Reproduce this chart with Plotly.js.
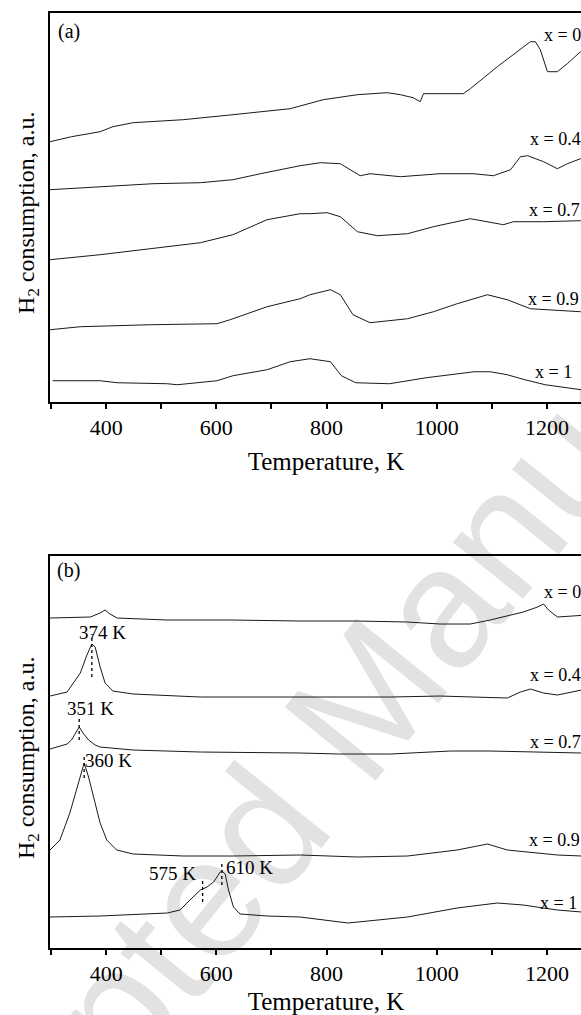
<!DOCTYPE html>
<html>
<head>
<meta charset="utf-8">
<script src="https://cdn.plot.ly/plotly-3.0.1.min.js"></script>
<style>html,body{margin:0;padding:0;overflow:hidden;background:#fff}</style>
</head>
<body>
<div id="chart"></div>
<script>
// ---------- data (temperature in K, H2 consumption in a.u.) ----------
// panel (a)
const a0_T  = [298, 337, 389, 412, 449, 540, 630, 734, 794, 856, 910, 934, 957, 970, 976, 1048, 1061, 1110, 1170, 1179, 1188, 1201, 1219, 1237, 1261, 1300];
const a0_H  = [260, 265, 270, 275, 279, 282, 287, 293, 302, 307, 309, 307, 304, 300, 308, 308, 313, 335, 360, 360, 352, 330, 330, 338, 350, 360];
const a04_T = [298, 389, 485, 571, 630, 680, 752, 789, 825, 861, 879, 934, 1006, 1066, 1103, 1134, 1152, 1165, 1194, 1219, 1237, 1261, 1300];
const a04_H = [212, 215, 218, 219, 222, 228, 236, 239, 238, 226, 228, 225, 228, 228, 226, 232, 245, 246, 240, 233, 238, 243, 248];
const a07_T = [298, 389, 480, 571, 630, 692, 752, 770, 801, 825, 856, 892, 947, 994, 1061, 1110, 1121, 1139, 1194, 1261, 1300];
const a07_H = [142, 147, 153, 159, 167, 182, 188, 188, 189, 185, 170, 166, 168, 175, 183, 178, 177, 180, 180, 181, 181];
const a09_T = [298, 353, 480, 601, 625, 692, 752, 770, 807, 825, 848, 879, 947, 994, 1037, 1092, 1128, 1170, 1261, 1300];
const a09_H = [72, 75, 77, 78, 82, 95, 103, 107, 112, 107, 87, 79, 83, 90, 98, 107, 102, 93, 90, 89];
const a1_T  = [303, 389, 420, 511, 529, 601, 630, 692, 734, 770, 807, 827, 853, 914, 981, 1068, 1097, 1128, 1160, 1197, 1262, 1300];
const a1_H  = [21, 21, 19, 18, 17, 21, 26, 32, 40, 43, 40, 26, 19, 18, 24, 30, 30, 27, 22, 17, 12, 10];
// panel (b)
const b0_T  = [298, 371, 389, 398, 407, 420, 511, 630, 752, 856, 947, 1006, 1061, 1097, 1157, 1183, 1194, 1203, 1219, 1263, 1300];
const b0_H  = [330, 331, 335, 338, 334, 330, 328, 328, 327, 327, 326, 324, 324, 328, 336, 341, 344, 338, 331, 333, 334];
const b04_T = [298, 329, 353, 365, 374, 380, 389, 398, 412, 449, 571, 752, 916, 1006, 1128, 1152, 1170, 1194, 1219, 1263, 1300];
const b04_H = [252, 256, 275, 293, 304, 301, 281, 265, 257, 254, 251, 251, 251, 252, 250, 256, 259, 255, 253, 258, 259];
const b07_T = [298, 329, 337, 345, 351, 358, 368, 380, 389, 449, 571, 752, 825, 916, 1025, 1097, 1219, 1263, 1300];
const b07_H = [199, 204, 208, 215, 221, 215, 208, 203, 201, 198, 196, 195, 194, 194, 197, 197, 195, 195, 195];
const b09_T = [298, 316, 334, 349, 357, 360, 368, 377, 389, 401, 419, 449, 540, 630, 752, 856, 947, 1037, 1092, 1128, 1219, 1263, 1300];
const b09_H = [98, 108, 135, 165, 181, 185, 171, 151, 125, 108, 98, 94, 92, 92, 93, 91, 92, 98, 104, 98, 93, 92, 92];
const b1_T  = [298, 389, 511, 534, 552, 571, 583, 595, 607, 610, 616, 622, 631, 643, 692, 752, 839, 947, 1037, 1110, 1157, 1219, 1263, 1300];
const b1_H  = [31, 32, 35, 38, 48, 58, 61, 66, 76, 77, 74, 58, 41, 34, 32, 31, 25, 31, 40, 45, 43, 38, 36, 36];

const seriesLabels = ['x = 0', 'x = 0.4', 'x = 0.7', 'x = 0.9', 'x = 1'];
const peakTemps = [374, 351, 360, 575, 610];
const peakText  = ['374 K', '351 K', '360 K', '575 K', '610 K'];
const tickVals  = [400, 600, 800, 1000, 1200];
const tickText  = ['400', '600', '800', '1000', '1200'];
const minorTickVals = [300, 500, 700, 900, 1100, 1300];

// ---------- drawing ----------
const SERIF = 'Liberation Serif, Times New Roman, serif';
const lineStyle = {color: '#1a1a1a', width: 1};
function tr(x, y, ax) {
  return {x: x, y: y, type: 'scatter', mode: 'lines', line: lineStyle,
          xaxis: ax === 2 ? 'x2' : 'x', yaxis: ax === 2 ? 'y2' : 'y',
          showlegend: false, hoverinfo: 'skip'};
}
const data = [
  tr(a0_T, a0_H, 1), tr(a04_T, a04_H, 1), tr(a07_T, a07_H, 1), tr(a09_T, a09_H, 1), tr(a1_T, a1_H, 1),
  tr(b0_T, b0_H, 2), tr(b04_T, b04_H, 2), tr(b07_T, b07_H, 2), tr(b09_T, b09_H, 2), tr(b1_T, b1_H, 2)
];

function xAxis(anchor) {
  return {anchor: anchor, domain: [0, 1], range: [298, 1300],
    showline: true, linewidth: 2, linecolor: '#000', mirror: true,
    ticks: 'outside', ticklen: 5, tickwidth: 2, tickcolor: '#000',
    tickmode: 'array', tickvals: tickVals, ticktext: tickText,
    minor: {tickmode: 'array', tickvals: minorTickVals, ticks: 'outside', ticklen: 5, tickwidth: 2, tickcolor: '#000', showgrid: false},
    tickfont: {family: SERIF, size: 22, color: '#000'},
    showgrid: false, zeroline: false,
    title: {text: 'Temperature, K', font: {family: SERIF, size: 25, color: '#000'}, standoff: 13}};
}
function yAxis(anchor, dom, top) {
  return {anchor: anchor, domain: dom, range: [0, top],
    showline: true, linewidth: 2, linecolor: '#000', mirror: true,
    ticks: '', showticklabels: false, showgrid: false, zeroline: false};
}

const annotations = [];
// series labels, right aligned near the right edge
const labA = [[1266, 367], [1266, 263], [1264, 192], [1261, 103], [1249, 30]];
const labB = [[1266, 356], [1266, 273], [1266, 206], [1264, 108], [1258, 45]];
seriesLabels.forEach((t, i) => {
  annotations.push({text: t, xref: 'x', yref: 'y', x: labA[i][0], y: labA[i][1], xanchor: 'right', yanchor: 'middle',
    showarrow: false, font: {family: SERIF, size: 18, color: '#000'}});
  annotations.push({text: t, xref: 'x2', yref: 'y2', x: labB[i][0], y: labB[i][1], xanchor: 'right', yanchor: 'middle',
    showarrow: false, font: {family: SERIF, size: 18, color: '#000'}});
});
// panel letters
annotations.push({text: '(a)', xref: 'x', yref: 'y', x: 332, y: 370, showarrow: false, font: {family: SERIF, size: 20, color: '#000'}});
annotations.push({text: '(b)', xref: 'x2', yref: 'y2', x: 332, y: 378, showarrow: false, font: {family: SERIF, size: 20, color: '#000'}});
// peak labels
const peakLabPos = [[393, 316], [372, 240], [405, 188], [521, 75], [660, 81]];
peakText.forEach((t, i) => {
  annotations.push({text: t, xref: 'x2', yref: 'y2', x: peakLabPos[i][0], y: peakLabPos[i][1], showarrow: false,
    font: {family: SERIF, size: 19, color: '#000'}});
});
// y titles
[[0.7902], [0.2532]].forEach(p => {
  annotations.push({text: 'H<sub>2</sub> consumption, a.u.', xref: 'paper', yref: 'paper', x: -0.0399, y: p[0],
    xanchor: 'center', yanchor: 'middle', textangle: -90, showarrow: false,
    font: {family: SERIF, size: 24, color: '#000'}});
});

// dotted peak marker lines
const peakLineY = [[271, 314], [208, 231], [170, 193], [46, 70], [63, 86]];
const shapes = peakTemps.map((t, i) => ({type: 'line', xref: 'x2', yref: 'y2', x0: t, x1: t,
  y0: peakLineY[i][0], y1: peakLineY[i][1], line: {color: '#000', width: 1.3, dash: 'dot'}}));
// watermark
shapes.push({type: 'rect', xref: 'paper', yref: 'paper', x0: 0.511, x1: 0.512, y0: 0.295, y1: 0.296,
  layer: 'below', line: {width: 0}, fillcolor: 'rgba(0,0,0,0)',
  label: {text: 'Accepted Manuscript', textangle: -51, textposition: 'middle center',
    font: {family: 'Liberation Sans, Arial, sans-serif', size: 170, color: '#e2e2e2'}}});

const layout = {
  width: 620, height: 1015,
  margin: {l: 50, r: 18.4, t: 0, b: 0},
  paper_bgcolor: '#fff', plot_bgcolor: 'rgba(0,0,0,0)',
  showlegend: false,
  xaxis: xAxis('y'), yaxis: yAxis('x', [0.6042, 0.9875], 389),
  xaxis2: xAxis('y2'), yaxis2: yAxis('x2', [0.0660, 0.4522], 392),
  annotations: annotations, shapes: shapes
};
Plotly.newPlot('chart', data, layout, {displayModeBar: false, staticPlot: true});
</script>
</body>
</html>
